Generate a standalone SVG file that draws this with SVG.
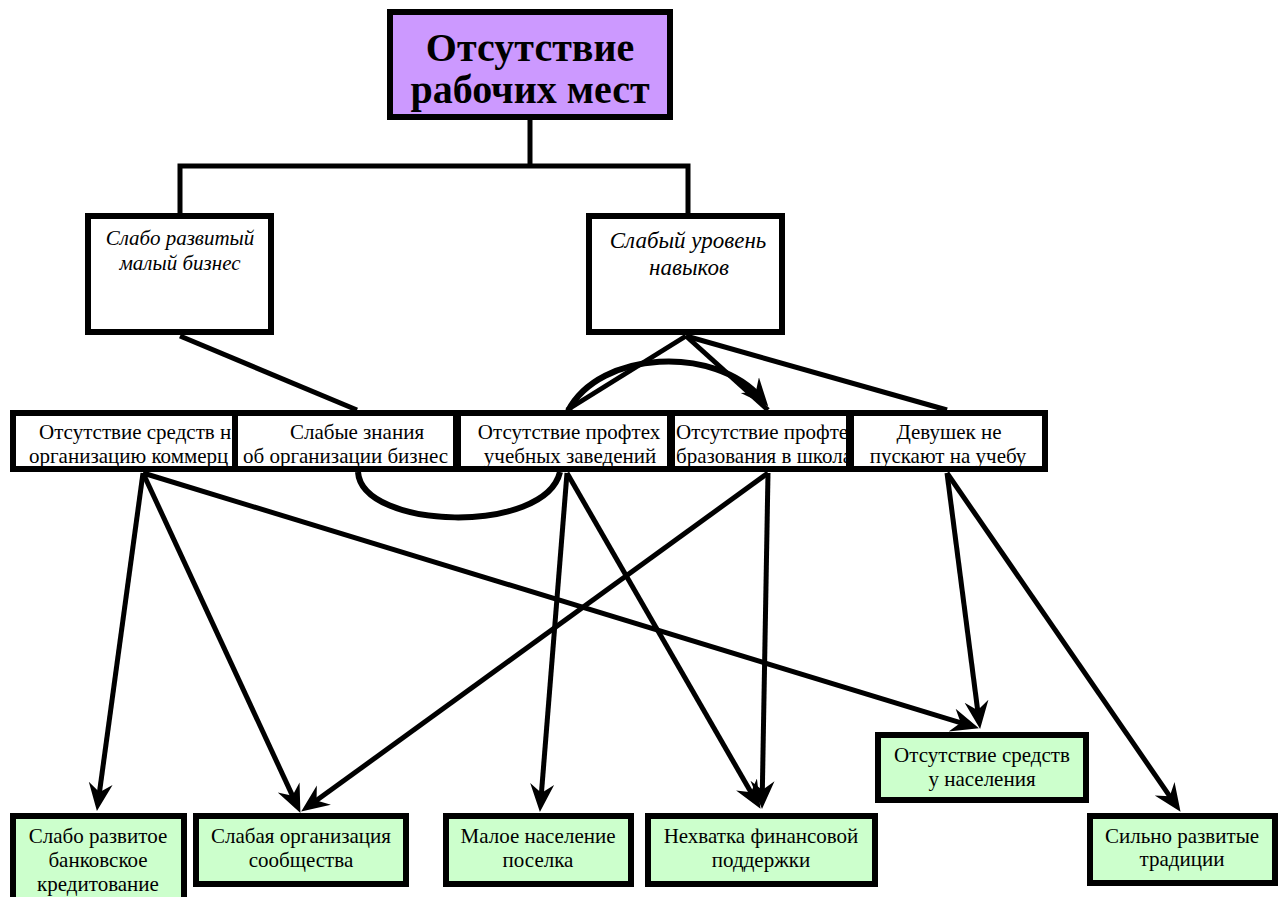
<svg xmlns="http://www.w3.org/2000/svg" width="1284" height="897" viewBox="0 0 1284 897">
<style>
.box{fill:#ffffff;stroke:#000;stroke-width:6}
.top{fill:#cc99ff;stroke:#000;stroke-width:6}
.leaf{fill:#ccffcc;stroke:#000;stroke-width:6}
.ln{fill:none;stroke:#000;stroke-width:5}
.lc{fill:none;stroke:#000;stroke-width:6}
.t{font-family:"Liberation Serif","Times New Roman",serif;font-size:21px;fill:#000}
.ti{font-family:"Liberation Serif","Times New Roman",serif;font-size:21px;font-style:italic;fill:#000}
.ti2{font-family:"Liberation Serif","Times New Roman",serif;font-size:23px;font-style:italic;fill:#000}
.tb{font-family:"Liberation Serif","Times New Roman",serif;font-size:40px;font-weight:bold;fill:#000}
.m{text-anchor:middle}
</style>
<defs>
<marker id="ah" markerUnits="userSpaceOnUse" markerWidth="32" markerHeight="28" viewBox="0 -14 32 28" refX="17" refY="0" orient="auto">
<path d="M0,-12 L28,0 L0,12 L9,0 Z" fill="#000"/>
</marker>
<clipPath id="c1"><rect x="16" y="416" width="216" height="50"/></clipPath>
<clipPath id="c2"><rect x="238" y="416" width="217" height="50"/></clipPath>
<clipPath id="c3"><rect x="461" y="416" width="206" height="50"/></clipPath>
<clipPath id="c4"><rect x="675" y="416" width="173" height="50"/></clipPath>
<clipPath id="c5"><rect x="854" y="416" width="188" height="50"/></clipPath>
</defs>
<g id="connectors">
<polyline class="ln" points="530,118 530,166"/>
<polyline class="ln" points="180,213 180,166 688,166 688,213"/>
<line class="ln" x1="180" y1="336" x2="357" y2="410"/>
<line class="ln" x1="686" y1="336" x2="567" y2="410"/>
<line class="ln" x1="686" y1="336" x2="768" y2="410"/>
<line class="ln" x1="686" y1="336" x2="947" y2="410"/>
<path class="lc" d="M568,411 C600,350 715,345 761,398" marker-end="url(#ah)"/>
<path class="lc" d="M358,472 C362,530 545,535 560,472"/>
<line class="ln" x1="143" y1="473" x2="98.4" y2="800.1" marker-end="url(#ah)"/>
<line class="ln" x1="143" y1="473" x2="295.8" y2="802.9" marker-end="url(#ah)"/>
<line class="ln" x1="143" y1="473" x2="968.4" y2="725.1" marker-end="url(#ah)"/>
<line class="ln" x1="567" y1="473" x2="540.8" y2="801" marker-end="url(#ah)"/>
<line class="ln" x1="567" y1="473" x2="755" y2="799.3" marker-end="url(#ah)"/>
<line class="ln" x1="768" y1="473" x2="310.1" y2="805.1" marker-end="url(#ah)"/>
<line class="ln" x1="768" y1="473" x2="762.2" y2="798" marker-end="url(#ah)"/>
<line class="ln" x1="947" y1="473" x2="978.7" y2="718.1" marker-end="url(#ah)"/>
<line class="ln" x1="947" y1="473" x2="1174.3" y2="802.8" marker-end="url(#ah)"/>
</g>
<g id="n-root">
<rect class="top" x="390" y="12" width="280" height="105"/>
<text class="tb m" x="530" y="61">Отсутствие</text>
<text class="tb m" x="530" y="103">рабочих мест</text>
</g>
<g id="n-business">
<rect class="box" x="88" y="216" width="183" height="116"/>
<text class="ti m" x="180" y="245">Слабо развитый</text>
<text class="ti m" x="180" y="270">малый бизнес</text>
</g>
<g id="n-skills">
<rect class="box" x="589" y="216" width="193" height="116"/>
<text class="ti2 m" x="688" y="248">Слабый уровень</text>
<text class="ti2 m" x="689" y="275">навыков</text>
</g>
<g id="n-funds-org">
<rect class="box" x="13" y="413" width="225" height="56"/>
<g clip-path="url(#c1)">
<text class="t" x="39" y="439">Отсутствие средств н</text>
<text class="t" x="29" y="463">организацию коммерц</text>
</g>
</g>
<g id="n-knowledge">
<rect class="box" x="235" y="413" width="221" height="56"/>
<g clip-path="url(#c2)">
<text class="t m" x="357" y="439">Слабые знания</text>
<text class="t" x="243" y="463">об организации бизнес</text>
</g>
</g>
<g id="n-schools">
<rect class="box" x="458" y="413" width="212" height="56"/>
<g clip-path="url(#c3)">
<text class="t m" x="569" y="439">Отсутствие профтех</text>
<text class="t m" x="570" y="463">учебных заведений</text>
</g>
</g>
<g id="n-vocational">
<rect class="box" x="672" y="413" width="177" height="56"/>
<g clip-path="url(#c4)">
<text class="t" x="676" y="439">Отсутствие профте</text>
<text class="t" x="676" y="463">бразования в школа</text>
</g>
</g>
<g id="n-girls">
<rect class="box" x="851" y="413" width="194" height="56"/>
<g clip-path="url(#c5)">
<text class="t m" x="949" y="439">Девушек не</text>
<text class="t m" x="948" y="463">пускают на учебу</text>
</g>
</g>
<g id="n-banking">
<rect class="leaf" x="13" y="816" width="171" height="100"/>
<text class="t m" x="98" y="843">Слабо развитое</text>
<text class="t m" x="98" y="867">банковское</text>
<text class="t m" x="98" y="891">кредитование</text>
</g>
<g id="n-community">
<rect class="leaf" x="196" y="816" width="210" height="68"/>
<text class="t m" x="301" y="843">Слабая организация</text>
<text class="t m" x="301" y="867">сообщества</text>
</g>
<g id="n-population">
<rect class="leaf" x="446" y="816" width="185" height="68"/>
<text class="t m" x="538" y="843">Малое население</text>
<text class="t m" x="538" y="867">поселка</text>
</g>
<g id="n-finance">
<rect class="leaf" x="648" y="816" width="227" height="68"/>
<text class="t m" x="761" y="843">Нехватка финансовой</text>
<text class="t m" x="761" y="867">поддержки</text>
</g>
<g id="n-income">
<rect class="leaf" x="878" y="735" width="208" height="65"/>
<text class="t m" x="982" y="762">Отсутствие средств</text>
<text class="t m" x="982" y="786">у населения</text>
</g>
<g id="n-traditions">
<rect class="leaf" x="1090" y="816" width="185" height="67"/>
<text class="t m" x="1182" y="843">Сильно развитые</text>
<text class="t m" x="1182" y="866">традиции</text>
</g>
</svg>
